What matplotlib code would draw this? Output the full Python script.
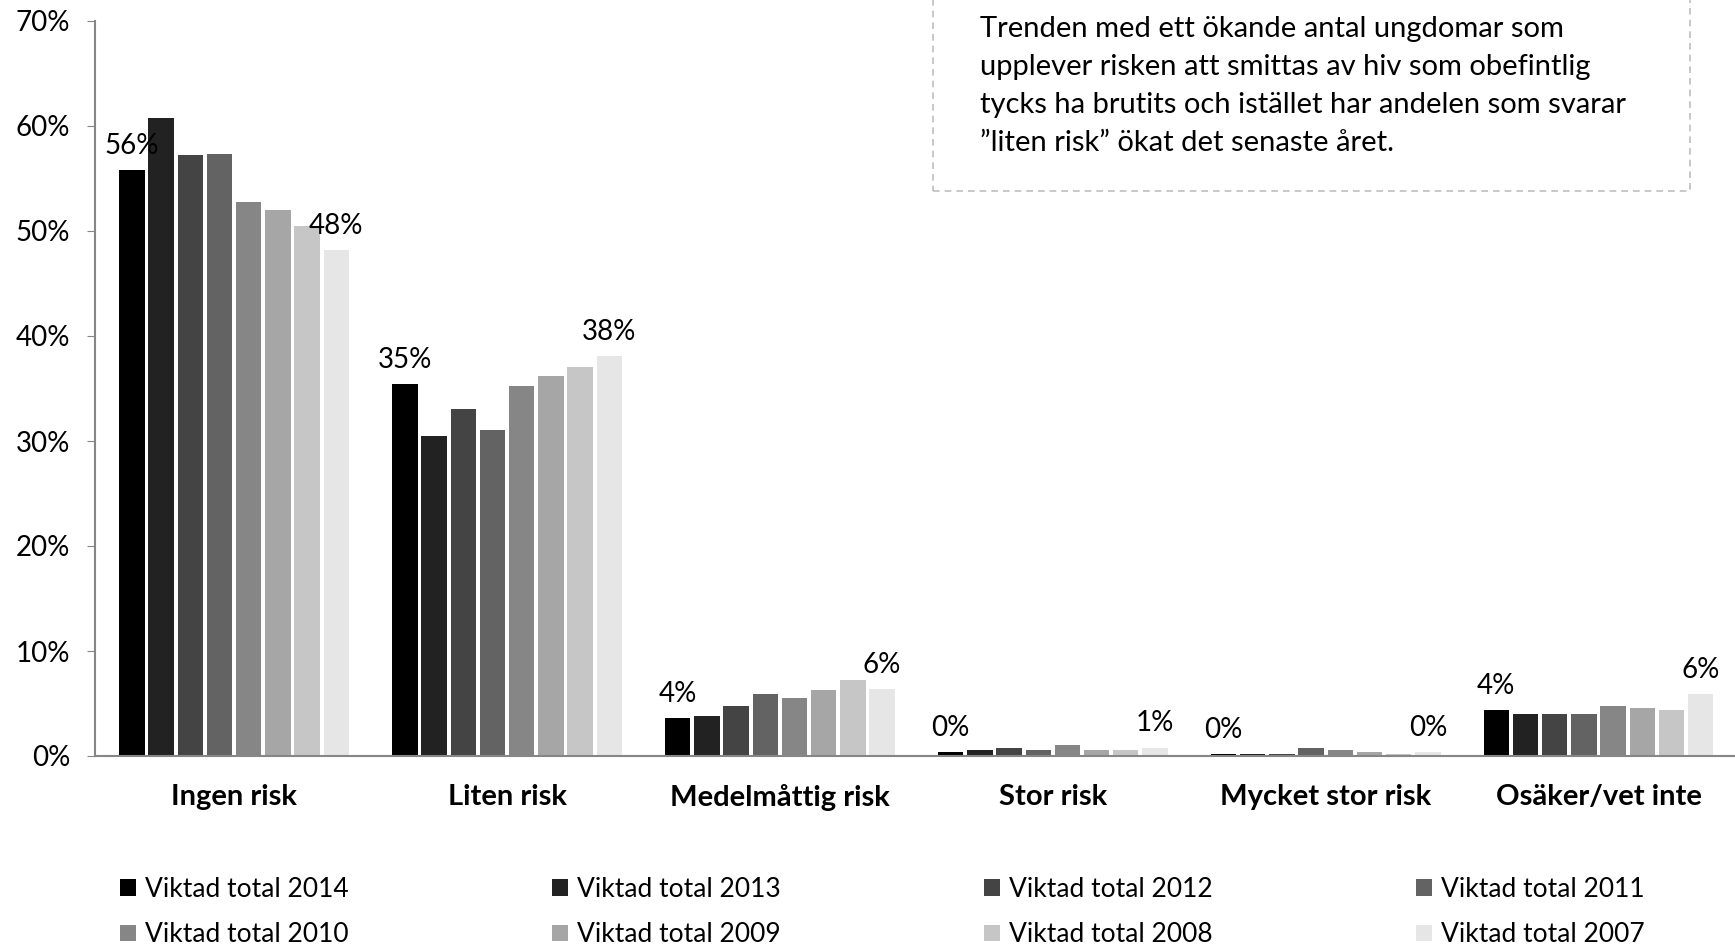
import matplotlib
matplotlib.use("Agg")
import matplotlib.pyplot as plt
from matplotlib.patches import Rectangle
import numpy as np

plt.rcParams["font.family"] = ["Lato", "DejaVu Sans"]

categories = ["Ingen risk", "Liten risk", "Medelmåttig risk", "Stor risk",
              "Mycket stor risk", "Osäker/vet inte"]
series_names = ["Viktad total 2014", "Viktad total 2013", "Viktad total 2012",
                "Viktad total 2011", "Viktad total 2010", "Viktad total 2009",
                "Viktad total 2008", "Viktad total 2007"]
colors = ["#000000", "#222222", "#444444", "#636363",
          "#868686", "#a6a6a6", "#c6c6c6", "#e6e6e6"]

# values in percent, one list per category (2014 ... 2007)
ingen_risk = [55.8, 60.8, 57.2, 57.3, 52.8, 52.0, 50.5, 48.2]
liten_risk = [35.4, 30.5, 33.0, 31.0, 35.2, 36.2, 37.0, 38.1]
medel_risk = [3.6, 3.8, 4.8, 5.9, 5.5, 6.3, 7.2, 6.4]
stor_risk = [0.4, 0.6, 0.8, 0.6, 1.0, 0.6, 0.6, 0.8]
mycket_stor_risk = [0.2, 0.2, 0.2, 0.8, 0.6, 0.4, 0.2, 0.4]
osaker = [4.4, 4.0, 4.0, 4.0, 4.8, 4.6, 4.4, 5.9]

box_text = ("Trenden med ett ökande antal ungdomar som\n"
            "upplever risken att smittas av hiv som obefintlig\n"
            "tycks ha brutits och istället har andelen som svarar\n"
            "”liten risk” ökat det senaste året.")

data = np.array([ingen_risk, liten_risk, medel_risk, stor_risk,
                 mycket_stor_risk, osaker])  # shape (cat, series)

W, H = 1735, 946
fig = plt.figure(figsize=(W / 100, H / 100), dpi=100)
ax = fig.add_axes([95 / W, 1 - 756 / H, 1 - 95 / W, (756 - 21) / H])

n = len(series_names)
x = np.arange(len(categories))
slot = 0.856 / n
bar_w = slot * 0.87
handles = []
for i in range(n):
    pos = x - 0.856 / 2 + slot * (i + 0.5)
    b = ax.bar(pos, data[:, i], bar_w, color=colors[i], label=series_names[i])
    handles.append(b)
    if i in (0, n - 1):
        for px, v in zip(pos, data[:, i]):
            ax.annotate(f"{v:.0f}%", xy=(px, v), xytext=(0, 8),
                        textcoords="offset points", ha="center", va="bottom",
                        fontsize=20)

ax.set_xlim(-0.51, 5.5)
ax.set_ylim(0, 70)
ax.set_yticks(np.arange(0, 71, 10))
ax.set_yticklabels([f"{t}%" for t in range(0, 71, 10)], fontsize=20)
ax.set_xticks(x)
ax.set_xticklabels(categories, fontsize=21, fontweight="bold")
ax.tick_params(axis="x", length=0, pad=20)
ax.tick_params(axis="y", length=6, color="#868686", pad=12)
for s in ("top", "right"):
    ax.spines[s].set_visible(False)
for s in ("left", "bottom"):
    ax.spines[s].set_color("#868686")
    ax.spines[s].set_linewidth(1.5)

# legend filled row by row
order = [0, 4, 1, 5, 2, 6, 3, 7]
fig.legend([handles[k] for k in order], [series_names[k] for k in order],
           ncol=4, loc="upper left", bbox_to_anchor=(96 / W, 1 - 853 / H),
           frameon=False, fontsize=19, handlelength=0.6, handleheight=0.6,
           handletextpad=0.35, columnspacing=7.7, labelspacing=0.78)

# dashed text box
fig.patches.append(Rectangle((933 / W, 1 - 191 / H), (1690 - 933) / W, 0.5,
                             transform=fig.transFigure, fill=False,
                             edgecolor="#bfbfbf", linestyle=(0, (4, 3)),
                             linewidth=1.2))
fig.text(980 / W, 1 - 16.5 / H, box_text, ha="left", va="top", fontsize=21,
         linespacing=1.57)

fig.savefig("out.png", dpi=100)
